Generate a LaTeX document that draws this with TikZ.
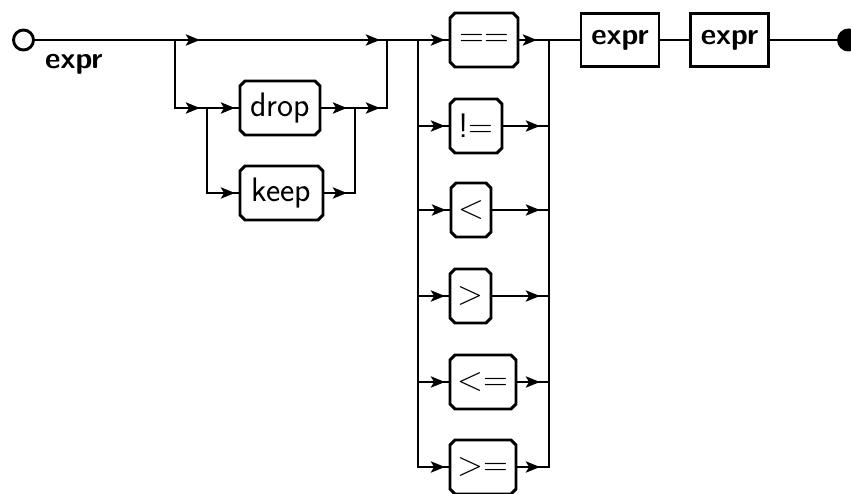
\documentclass[tikz,border=0pt]{standalone}
\usetikzlibrary{arrows.meta,decorations.markings}
\begin{document}
\begin{tikzpicture}[x=1pt,y=-1pt,
  rail/.style={line width=2.9pt},
  tip/.style={postaction={decorate,decoration={markings,
      mark=at position #1 with {\arrow{Stealth[length=14pt,width=11pt,inset=3pt]}}}}},
  term/.style={draw=none,rectangle,inner sep=0pt,outer sep=0pt,minimum height=54pt,
      font=\sffamily\fontsize{34}{36}\selectfont},
  nonterm/.style={draw,line width=2.9pt,rectangle,inner sep=0pt,outer sep=0pt,minimum height=53pt,
      minimum width=78pt,font=\sffamily\bfseries\fontsize{30}{32}\selectfont},
  lbl/.style={font=\sffamily\bfseries\fontsize{30}{32}\selectfont,inner sep=0pt}]
\useasboundingbox (0,0) rectangle (851,494);

% start / end
\node[draw,circle,line width=2.9pt,fill=white,minimum size=20pt,inner sep=0pt] (S) at (23.5,40) {};
\node[fill=black,circle,minimum size=23pt,inner sep=0pt] (E) at (848.5,40) {};
\node[lbl,anchor=base west] (L) at (45,69) {expr};

% junction coordinates
\coordinate (j1) at (175,40);
\coordinate (j2) at (387,40);
\coordinate (k1) at (207,108);
\coordinate (k2) at (355,108);
\coordinate (j3) at (418,40);
\coordinate (j4) at (549,40);
\foreach \r/\y in {2/126,3/210,4/296,5/382} {
  \coordinate (l\r) at (418,\y);
  \coordinate (r\r) at (549,\y);
}

% terminals
\node[term,minimum width=80pt] (drop) at (280,108) {drop};
\node[term,minimum width=83pt] (keep) at (281.5,193) {keep};
\node[term,minimum width=68pt] (eq) at (484,40) {==};
\node[term,minimum width=52pt] (ne) at (476,126) {!=};
\node[term,minimum width=40pt] (lt) at (471,210) {<};
\node[term,minimum width=41pt] (gt) at (470.5,296) {>};
\node[term,minimum width=66pt] (le) at (483,382) {<=};
\node[term,minimum width=66pt] (ge) at (483,467) {>=};

\foreach \n in {drop,keep,eq,ne,lt,gt,le,ge}
  \draw[rail] ([xshift=5pt]\n.north west) -- ([xshift=-5pt]\n.north east)
    -- ([yshift=-5pt]\n.north east) -- ([yshift=5pt]\n.south east)
    -- ([xshift=-5pt]\n.south east) -- ([xshift=5pt]\n.south west)
    -- ([yshift=5pt]\n.south west) -- ([yshift=-5pt]\n.north west) -- cycle;

% nonterminals
\node[nonterm] (x1) at (620,40) {expr};
\node[nonterm] (x2) at (729.5,40) {expr};

% first choice
\draw[rail] (S) -- (j1);
\draw[rail,tip=25pt,tip=-7pt] (j1) -- (j2);
\draw[rail,tip=-7pt] (j1) |- (k1);
\draw[rail,tip=-5pt] (k1) -- (drop);
\draw[rail,tip=-5pt] (k1) |- (keep);
\draw[rail,tip=-8pt] (drop) -- (k2);
\draw[rail,tip=24pt] (keep) -| (k2);
\draw[rail,tip=25pt] (k2) -| (j2);
\draw[rail] (j2) -- (j3);

% comparison choice
\draw[rail,tip=-5pt] (j3) -- (eq);
\draw[rail,tip=-12pt] (eq) -- (j4);
\draw[rail,tip=-5pt] (j3) |- (ge);
\draw[rail,tip=24pt] (ge) -| (j4);
\draw[rail,tip=-5pt] (l2) -- (ne);
\draw[rail,tip=-9pt] (ne) -- (r2);
\draw[rail,tip=-5pt] (l3) -- (lt);
\draw[rail,tip=-9pt] (lt) -- (r3);
\draw[rail,tip=-5pt] (l4) -- (gt);
\draw[rail,tip=-9pt] (gt) -- (r4);
\draw[rail,tip=-5pt] (l5) -- (le);
\draw[rail,tip=-9pt] (le) -- (r5);

% tail
\draw[rail] (j4) -- (x1);
\draw[rail] (x1) -- (x2);
\draw[rail] (x2) -- (E);
\end{tikzpicture}
\end{document}
